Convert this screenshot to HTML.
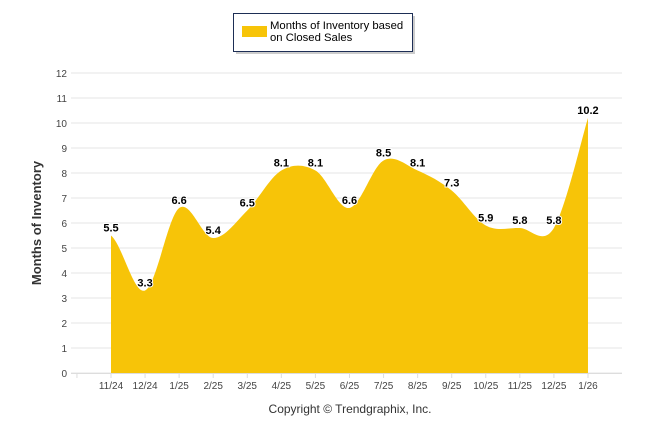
<!DOCTYPE html>
<html><head><meta charset="utf-8"><style>
body{margin:0;background:#fff;font-family:"Liberation Sans",sans-serif}
svg text{font-family:"Liberation Sans",sans-serif}
</style></head><body>
<svg width="646" height="434">
<g id="grid"></g>
<g id="yt"></g>
<path id="area" fill="#F7C408"/>
<g id="xt"></g>
<g id="lbl"></g>
<text x="41" y="223" transform="rotate(-90 41 223)" text-anchor="middle" font-size="13" font-weight="bold" fill="#333">Months of Inventory</text>
<text x="350" y="413" text-anchor="middle" font-size="12" fill="#333">Copyright © Trendgraphix, Inc.</text>
<g>
<rect x="236" y="16" width="179" height="38" fill="#999" opacity="0.5"/>
<rect x="233.5" y="13.5" width="179" height="38" fill="#fff" stroke="#1d2e55" stroke-width="1"/>
<rect x="242" y="26" width="25" height="11" fill="#F7C408"/>
<text x="270" y="29" font-size="11.3" fill="#000"><tspan x="270">Months of Inventory based</tspan><tspan x="270" dy="12">on Closed Sales</tspan></text>
</g>
</svg>
<script>
const categories=["11/24","12/24","1/25","2/25","3/25","4/25","5/25","6/25","7/25","8/25","9/25","10/25","11/25","12/25","1/26"];
const values=[5.5,3.3,6.6,5.4,6.5,8.1,8.1,6.6,8.5,8.1,7.3,5.9,5.8,5.8,10.2];
const yTicks=[0,1,2,3,4,5,6,7,8,9,10,11,12];
const NS="http://www.w3.org/2000/svg";
const xOf=i=>111+i*34.07, yOf=v=>373-v*25;
function mk(t,a,p,txt){const e=document.createElementNS(NS,t);for(const k in a)e.setAttribute(k,a[k]);if(txt!=null)e.textContent=txt;p.appendChild(e);return e;}
const grid=document.getElementById('grid'),yt=document.getElementById('yt'),xt=document.getElementById('xt'),lbl=document.getElementById('lbl');
yTicks.forEach(v=>{
 const l=mk('line',{x1:71,x2:622,y1:yOf(v),y2:yOf(v),stroke:'#e6e6e6'},grid);
 
 
 const t=mk('text',{x:67,y:yOf(v)+4,'text-anchor':'end','font-size':10,fill:'#444'},yt,v);
 
 
});
mk('line',{x1:71,x2:622,y1:373.5,y2:373.5,stroke:'#ddd'},xt);
for(let i=-1;i<categories.length;i++){mk('line',{x1:xOf(i),x2:xOf(i),y1:373,y2:378,stroke:'#ddd'},xt);}
categories.forEach((c,i)=>{
 const t=mk('text',{x:xOf(i),y:389,'text-anchor':'middle','font-size':10,fill:'#444'},xt,c);
 
 
});
const pts=values.map((v,i)=>[xOf(i),yOf(v)]);
let d=`M${pts[0][0]},373 L${pts[0][0]},${pts[0][1]}`;
for(let i=0;i<pts.length-1;i++){
 const p0=pts[i-1]||pts[i],p1=pts[i],p2=pts[i+1],p3=pts[i+2]||p2;
 const c1y=p1[1]+(p2[1]-p0[1])/6;
 const c2x=p2[0]-(p3[0]-p1[0])/6, c2y=p2[1]-(p3[1]-p1[1])/6;
 d+=` C${p1[0]+(p2[0]-p1[0])/3},${c1y} ${c2x},${c2y} ${p2[0]},${p2[1]}`;
}
d+=` L${pts[pts.length-1][0]},373 Z`;
document.getElementById('area').setAttribute('d',d);
values.forEach((v,i)=>{
 const t=mk('text',{x:xOf(i),y:yOf(v)-4,'text-anchor':'middle','font-size':11,'font-weight':'bold',fill:'#000',stroke:'#fff','stroke-width':2,'paint-order':'stroke'},lbl,v);
 
 
});
</script>
</body></html>
